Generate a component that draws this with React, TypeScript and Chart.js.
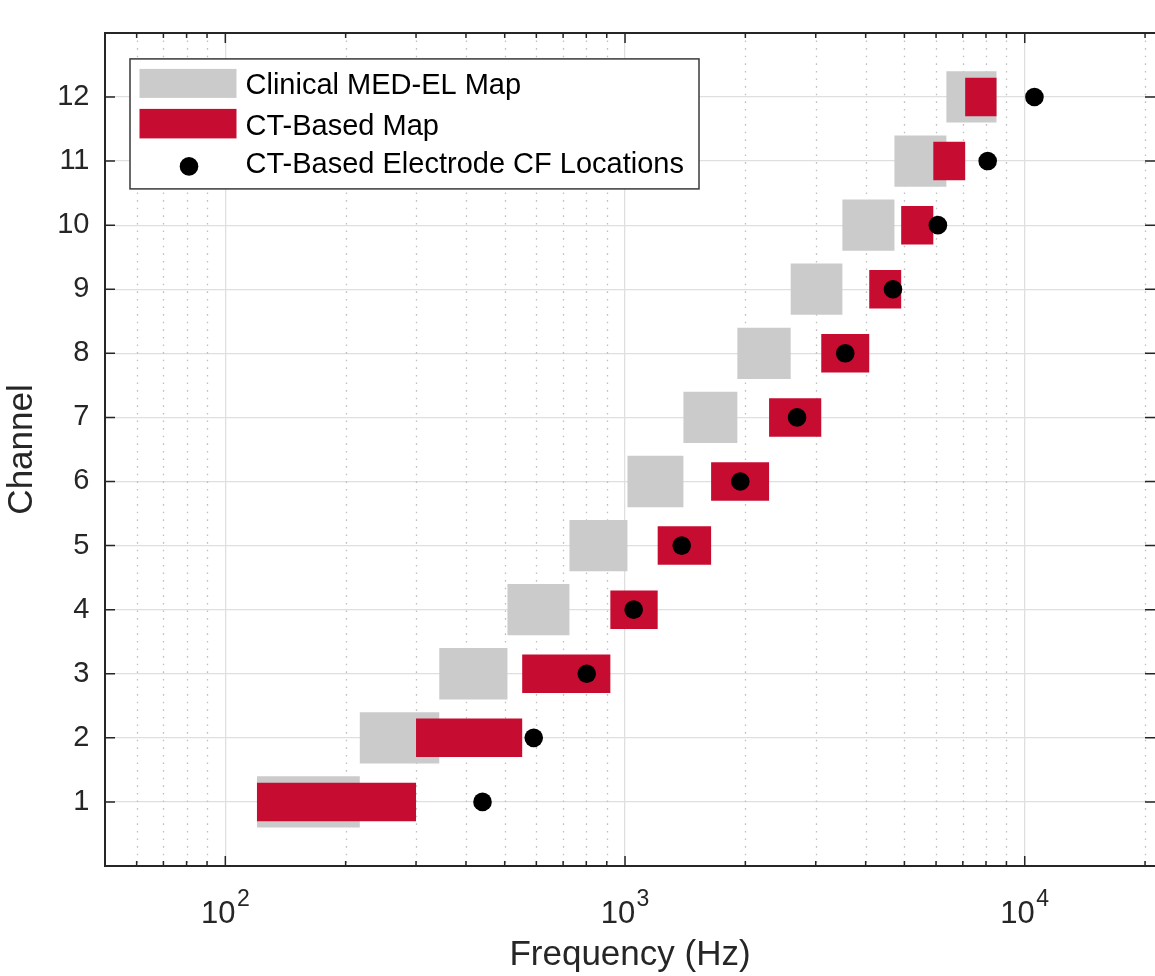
import React, { useEffect, useRef } from 'react';
import { Chart, registerables } from 'chart.js';

Chart.register(...registerables);

// ---- Data ----
const channels = [1, 2, 3, 4, 5, 6, 7, 8, 9, 10, 11, 12];
const clinicalLow = [120, 217, 343, 508, 726, 1014, 1400, 1910, 2597, 3498, 4721, 6368];
const clinicalHigh = [217, 343, 508, 726, 1014, 1400, 1910, 2597, 3498, 4721, 6368, 8500];
const ctLow = [120, 300, 553, 919, 1207, 1642, 2293, 3097, 4083, 4908, 5906, 7096];
const ctHigh = [300, 553, 919, 1207, 1642, 2293, 3097, 4083, 4908, 5906, 7096, 8500];
const electrodeCF = [440, 591, 802, 1051, 1386, 1943, 2694, 3556, 4681, 6064, 8078, 10575];

// ---- Axis ticks ----
const yTicks = [1, 2, 3, 4, 5, 6, 7, 8, 9, 10, 11, 12];
const xMajorTicks = [100, 1000, 10000];
const xMajorExponents = ['2', '3', '4'];
const xMinorTicks = [
  60, 70, 80, 90,
  200, 300, 400, 500, 600, 700, 800, 900,
  2000, 3000, 4000, 5000, 6000, 7000, 8000, 9000,
  20000,
];
const X_MIN = 50;
const X_MAX = 21180;
const Y_MIN = 0;
const Y_MAX = 13;

const seriesLabels = ['Clinical MED-EL Map', 'CT-Based Map', 'CT-Based Electrode CF Locations'];
const xTitle = 'Frequency (Hz)';
const yTitle = 'Channel';

const FONT = '"Liberation Sans", Arial, Helvetica, sans-serif';
const AXIS_COLOR = '#262626';
const GRID_COLOR = '#dfdfdf';
const GREY = '#CBCBCB';
const RED = '#C60C30';

const matlabAxesPlugin = {
  id: 'matlabAxes',
  beforeDatasetsDraw(chart: any) {
    const { ctx, chartArea: ca, scales } = chart;
    const x = scales.x;
    ctx.save();
    ctx.strokeStyle = '#bfbfbf';
    ctx.lineWidth = 1.3;
    ctx.setLineDash([1.6, 6]);
    for (const v of xMinorTicks) {
      const px = Math.round(x.getPixelForValue(v)) + 0.5;
      ctx.beginPath();
      ctx.moveTo(px, ca.top);
      ctx.lineTo(px, ca.bottom);
      ctx.stroke();
    }
    ctx.restore();
  },
  afterDatasetsDraw(chart: any) {
    const { ctx, chartArea: ca, scales } = chart;
    const x = scales.x;
    const y = scales.y;
    ctx.save();
    ctx.setLineDash([]);
    ctx.strokeStyle = AXIS_COLOR;
    ctx.lineWidth = 2;
    // top box line
    ctx.beginPath();
    ctx.moveTo(ca.left, ca.top);
    ctx.lineTo(ca.right, ca.top);
    ctx.stroke();
    // inward ticks
    ctx.lineWidth = 1.5;
    ctx.beginPath();
    for (const v of yTicks) {
      const py = y.getPixelForValue(v);
      ctx.moveTo(ca.left, py);
      ctx.lineTo(ca.left + 10, py);
      ctx.moveTo(ca.right - 10, py);
      ctx.lineTo(ca.right, py);
    }
    for (const v of xMajorTicks) {
      const px = x.getPixelForValue(v);
      ctx.moveTo(px, ca.bottom);
      ctx.lineTo(px, ca.bottom - 10);
      ctx.moveTo(px, ca.top);
      ctx.lineTo(px, ca.top + 10);
    }
    for (const v of xMinorTicks) {
      const px = x.getPixelForValue(v);
      ctx.moveTo(px, ca.bottom);
      ctx.lineTo(px, ca.bottom - 5);
      ctx.moveTo(px, ca.top);
      ctx.lineTo(px, ca.top + 5);
    }
    ctx.stroke();

    // x tick labels: 10^n
    ctx.fillStyle = AXIS_COLOR;
    ctx.textBaseline = 'alphabetic';
    ctx.textAlign = 'left';
    xMajorTicks.forEach((v, i) => {
      const px = x.getPixelForValue(v);
      const base = '10';
      const exp = xMajorExponents[i];
      ctx.font = `31px ${FONT}`;
      const wb = ctx.measureText(base).width;
      ctx.font = `23px ${FONT}`;
      const we = ctx.measureText(exp).width;
      const gap = 1.5;
      const start = px - (wb + gap + we) / 2;
      ctx.font = `31px ${FONT}`;
      ctx.fillText(base, start, ca.bottom + 57);
      ctx.font = `23px ${FONT}`;
      ctx.fillText(exp, start + wb + gap, ca.bottom + 40);
    });

    // legend box
    const lx = ca.left + 25;
    const ly = ca.top + 26;
    const lw = 569;
    const lh = 130;
    ctx.fillStyle = '#ffffff';
    ctx.fillRect(lx, ly, lw, lh);
    ctx.strokeStyle = '#3a3a3a';
    ctx.lineWidth = 1.5;
    ctx.strokeRect(lx, ly, lw, lh);
    const ds = chart.data.datasets;
    ctx.fillStyle = ds[0].backgroundColor;
    ctx.fillRect(lx + 9.5, ly + 10, 97, 29);
    ctx.fillStyle = ds[1].backgroundColor;
    ctx.fillRect(lx + 9.5, ly + 50, 97, 29.5);
    ctx.fillStyle = '#000000';
    ctx.beginPath();
    ctx.arc(lx + 59, ly + 107.5, 9.3, 0, Math.PI * 2);
    ctx.fill();
    ctx.font = `29px ${FONT}`;
    ctx.fillStyle = '#000000';
    const baselines = [35.5, 76, 114];
    ds.forEach((d: any, i: number) => {
      ctx.fillText(d.label, lx + 115.5, ly + baselines[i]);
    });
    ctx.restore();
  },
};

export default function App() {
  const canvasRef = useRef<HTMLCanvasElement | null>(null);

  useEffect(() => {
    if (!canvasRef.current) return;
    const chart = new Chart(canvasRef.current, {
      type: 'bar',
      data: {
        datasets: [
          {
            type: 'bar',
            label: seriesLabels[0],
            data: channels.map((c, i) => ({ y: c, x: [clinicalLow[i], clinicalHigh[i]] })) as any,
            backgroundColor: GREY,
            borderWidth: 0,
            grouped: false,
            categoryPercentage: 1,
            barPercentage: 0.8,
            indexAxis: 'y',
            order: 3,
          } as any,
          {
            type: 'bar',
            label: seriesLabels[1],
            data: channels.map((c, i) => ({ y: c, x: [ctLow[i], ctHigh[i]] })) as any,
            backgroundColor: RED,
            borderWidth: 0,
            grouped: false,
            categoryPercentage: 1,
            barPercentage: 0.6,
            indexAxis: 'y',
            order: 2,
          } as any,
          {
            type: 'scatter',
            label: seriesLabels[2],
            data: channels.map((c, i) => ({ x: electrodeCF[i], y: c })),
            pointRadius: 9.3,
            pointBackgroundColor: '#000000',
            pointBorderWidth: 0,
            backgroundColor: '#000000',
            borderWidth: 0,
            showLine: false,
            clip: false,
            order: 1,
          } as any,
        ],
      },
      options: {
        indexAxis: 'y',
        responsive: false,
        animation: false,
        events: [],
        layout: { autoPadding: false, padding: { top: 32, right: 0, bottom: 0, left: 0 } },
        plugins: {
          legend: { display: false },
          tooltip: { enabled: false },
        },
        scales: {
          x: {
            type: 'logarithmic',
            position: 'bottom',
            min: X_MIN,
            max: X_MAX,
            beginAtZero: false,
            offset: false,
            afterBuildTicks: (s: any) => {
              s.ticks = xMajorTicks.map((v) => ({ value: v, major: true }));
            },
            afterFit: (s: any) => {
              s.height = 110;
            },
            ticks: { display: false },
            grid: { color: GRID_COLOR, lineWidth: 1.3, drawTicks: false, offset: false },
            border: { display: true, color: AXIS_COLOR, width: 2 },
            title: {
              display: true,
              text: xTitle,
              color: AXIS_COLOR,
              font: { family: FONT, size: 35 },
              padding: { top: 0, bottom: 0 },
            },
          } as any,
          y: {
            type: 'linear',
            position: 'left',
            min: Y_MIN,
            max: Y_MAX,
            offset: false,
            afterBuildTicks: (s: any) => {
              s.ticks = yTicks.map((v) => ({ value: v }));
            },
            afterFit: (s: any) => {
              s.width = 105;
            },
            ticks: {
              color: AXIS_COLOR,
              font: { family: FONT, size: 29 },
              padding: 15.5,
            },
            grid: { color: GRID_COLOR, lineWidth: 1.3, drawTicks: false, offset: false },
            border: { display: true, color: AXIS_COLOR, width: 2 },
            title: {
              display: true,
              text: yTitle,
              color: AXIS_COLOR,
              font: { family: FONT, size: 35 },
              padding: { top: 1, bottom: 0 },
            },
          } as any,
        },
      },
      plugins: [matlabAxesPlugin],
    });
    return () => chart.destroy();
  }, []);

  return (
    <div style={{ position: 'fixed', left: 0, top: 0, width: 1155, height: 976, background: '#ffffff' }}>
      <canvas ref={canvasRef} width={1155} height={976} style={{ display: 'block' }} />
    </div>
  );
}
